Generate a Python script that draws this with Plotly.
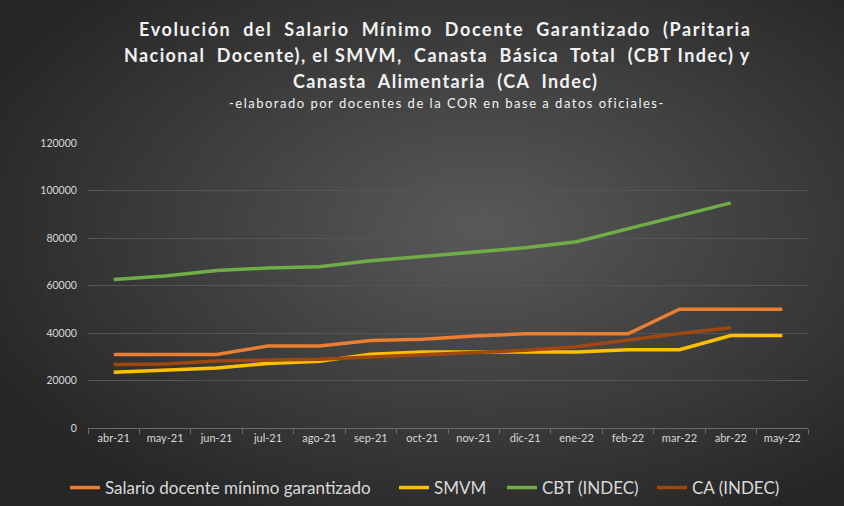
import base64
import plotly.graph_objects as go

# months on the x axis
meses = ['abr-21', 'may-21', 'jun-21', 'jul-21', 'ago-21', 'sep-21', 'oct-21',
         'nov-21', 'dic-21', 'ene-22', 'feb-22', 'mar-22', 'abr-22', 'may-22']

# series
salario_docente = [31000, 31000, 31000, 34500, 34500, 36800, 37400, 38700, 39700,
                   39700, 39700, 50000, 50000, 50000]
smvm = [23500, 24400, 25300, 27200, 28100, 31100, 32000, 32000, 32000, 32000,
        33000, 33000, 38900, 38900]
cbt = [62500, 64000, 66300, 67400, 67900, 70400, 72200, 73900, 75900, 78400,
       83900, 89500, 94800]
ca = [26700, 27000, 28200, 28700, 29000, 29900, 30900, 31700, 32700, 34200,
      37000, 39800, 42200]

series = [
    ('Salario docente mínimo garantizado', salario_docente, '#ED7D31'),
    ('SMVM', smvm, '#FFC000'),
    ('CBT (INDEC)', cbt, '#70AD47'),
    ('CA (INDEC)', ca, '#9E480E'),
]
# left edge (px) of each legend entry, spread out like the original
legend_x = [65, 394, 502, 652]

FONT = 'Lato'
L, R, T, B = 88, 36, 143, 78
W, H = 844, 506
pw, ph = W - L - R, H - T - B

fig = go.Figure()
legends = {}
for i, (nombre, valores, color) in enumerate(series):
    key = 'legend' if i == 0 else 'legend%d' % (i + 1)
    fig.add_trace(go.Scatter(x=meses[:len(valores)], y=valores, name=nombre,
                             mode='lines', line=dict(color=color, width=3.5),
                             legend=key))
    legends[key] = dict(orientation='h', xref='container', yref='container',
                        x=legend_x[i] / W, xanchor='left', y=1 - 488 / H, yanchor='middle',
                        font=dict(size=17, color='#D9D9D9'), bgcolor='rgba(0,0,0,0)',
                        itemwidth=30)

# dark radial background (Excel style)
svg = ('<svg xmlns="http://www.w3.org/2000/svg" width="844" height="506">'
       '<defs><radialGradient id="g" cx="57%" cy="45%" r="65%">'
       '<stop offset="0" stop-color="#595959"/>'
       '<stop offset="1" stop-color="#262626"/></radialGradient></defs>'
       '<rect width="844" height="506" fill="url(#g)"/></svg>')
src = 'data:image/svg+xml;base64,' + base64.b64encode(svg.encode()).decode()
fig.add_layout_image(dict(source=src, xref='paper', yref='paper',
                          x=-L / pw, y=1 + T / ph, sizex=W / pw, sizey=H / ph,
                          xanchor='left', yanchor='top', sizing='stretch',
                          layer='below'))

titulo = [('Evolución  del  Salario  Mínimo  Docente  Garantizado  (Paritaria', 445, 1.6),
          ('Nacional  Docente), el SMVM,  Canasta  Básica  Total  (CBT Indec) y', 437, 1.4),
          ('Canasta  Alimentaria  (CA  Indec)', 445, 1.4)]
for i, (linea, cx, ls) in enumerate(titulo):
    fig.add_annotation(text='<span style="letter-spacing:%spx"><b>%s</b></span>' % (ls, linea),
                       xref='paper', yref='paper',
                       x=(cx - L) / pw, y=1 + (T - 29.5 - 25.5 * i) / ph,
                       showarrow=False, xanchor='center', yanchor='middle',
                       font=dict(family=FONT, size=18, color='#F2F2F2'))
fig.add_annotation(text='<span style="letter-spacing:1.5px">-elaborado por docentes de la COR '
                        'en base a datos oficiales-</span>',
                   xref='paper', yref='paper', x=(447 - L) / pw, y=1 + (T - 103) / ph,
                   showarrow=False, xanchor='center', yanchor='middle',
                   font=dict(family=FONT, size=13, color='#F2F2F2'))

fig.update_layout(
    width=W, height=H, autosize=False,
    margin=dict(l=L, r=R, t=T, b=B, pad=0),
    paper_bgcolor='#333333',
    plot_bgcolor='rgba(0,0,0,0)',
    font=dict(family=FONT, color='#D9D9D9'),
    showlegend=True,
    **legends,
)
fig.update_xaxes(type='category', categoryarray=meses, range=[-0.5, len(meses) - 0.5],
                 showgrid=False, showline=True, linecolor='#6b6b6b', linewidth=1,
                 ticks='outside', tickson='boundaries', ticklen=5, tickcolor='#6b6b6b',
                 tickfont=dict(size=11, color='#D9D9D9'), zeroline=False,
                 automargin=False)
fig.update_yaxes(range=[0, 120000], dtick=20000, tickformat='d', showgrid=True,
                 gridcolor='#555555', gridwidth=1, zeroline=False, showline=False,
                 tickfont=dict(size=10.5, color='#D9D9D9'), ticklen=8,
                 ticks='outside', tickcolor='rgba(0,0,0,0)', automargin=False)

fig.write_html('out.html', config={'displayModeBar': False},
               post_script="document.body.style.margin='0';document.body.style.padding='0';")
